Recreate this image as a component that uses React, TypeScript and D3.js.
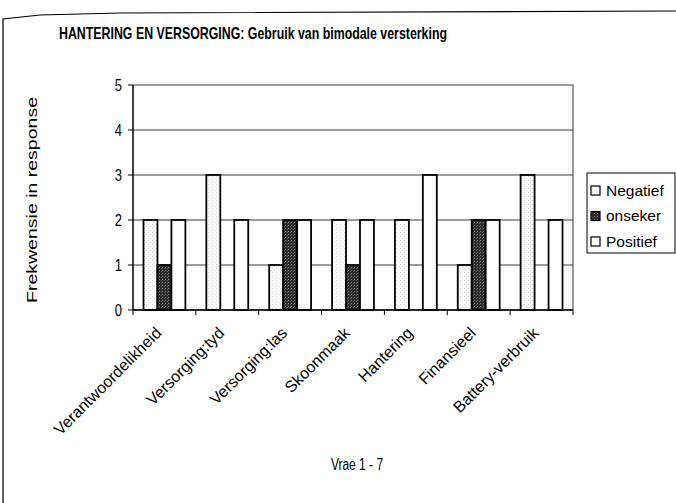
import React from "react";
import * as d3 from "d3";

const categories = [
  "Verantwoordelikheid",
  "Versorging:tyd",
  "Versorging:las",
  "Skoonmaak",
  "Hantering",
  "Finansieel",
  "Battery-verbruik",
];
const seriesNames = ["Negatief", "onseker", "Positief"];
const negatief = [2, 3, 1, 2, 2, 1, 3];
const onseker = [1, 0, 2, 1, 0, 2, 0];
const positief = [2, 2, 2, 2, 3, 2, 2];
const yTicks = [0, 1, 2, 3, 4, 5];

const title = "HANTERING EN VERSORGING: Gebruik van bimodale versterking";
const xTitle = "Vrae 1 - 7";
const yTitle = "Frekwensie in response";

const W = 676;
const H = 503;
const plot = { left: 133, right: 573, top: 85, bottom: 310 };
const fills = ["url(#patNeg)", "url(#patOns)", "#ffffff"];
const font = "Arial, 'Liberation Sans', Helvetica, sans-serif";
const VS = 1.3; // vertical stretch of the scanned text

export default function App() {
  const values = [negatief, onseker, positief];
  const x0 = d3
    .scaleBand<string>()
    .domain(categories)
    .range([plot.left, plot.right])
    .paddingInner(0)
    .paddingOuter(0);
  const bw = x0.bandwidth();
  const groupW = (bw * 2) / 3;
  const x1 = d3
    .scaleBand<string>()
    .domain(seriesNames)
    .range([0, groupW])
    .padding(0);
  const y = d3.scaleLinear().domain([0, 5]).range([plot.bottom, plot.top]);

  const boundaries = d3.range(categories.length + 1).map((i) =>
    i < categories.length ? (x0(categories[i]) as number) : plot.right
  );

  return (
    <svg
      width={W}
      height={H}
      style={{ position: "absolute", left: 0, top: 0, background: "#fff" }}
      fontFamily={font}
    >
      <defs>
        <pattern id="patNeg" width="4" height="4" patternUnits="userSpaceOnUse">
          <rect width="4" height="4" fill="#fdfdfd" />
          <rect x="0" y="0" width="1" height="1" fill="#d4d4d4" />
          <rect x="2" y="2" width="1" height="1" fill="#e2e2e2" />
        </pattern>
        <pattern id="patOns" width="3" height="3" patternUnits="userSpaceOnUse">
          <rect width="3" height="3" fill="#2a2a2a" />
          <rect x="0" y="0" width="1" height="1" fill="#858585" />
          <rect x="2" y="1" width="1" height="1" fill="#5e5e5e" />
        </pattern>
      </defs>

      {/* outer chart border (scanned, slightly skewed) */}
      <path
        d={`M3,${H} L3,19 L40,15 L120,13 L676,11`}
        fill="none"
        stroke="#000"
        strokeWidth={1.2}
      />

      {/* title */}
      <text
        transform={`translate(253, 39) scale(1, ${VS})`}
        textAnchor="middle"
        fontSize={13}
        fontWeight="bold"
        fill="#000"
        textLength={388}
        lengthAdjust="spacingAndGlyphs"
      >
        {title}
      </text>

      {/* gridlines */}
      {yTicks.map((t) => (
        <line
          key={"g" + t}
          x1={plot.left}
          x2={plot.right}
          y1={y(t)}
          y2={y(t)}
          stroke="#3a3a3a"
          strokeWidth={1}
        />
      ))}

      {/* plot area right border */}
      <line
        x1={plot.right}
        x2={plot.right}
        y1={plot.top}
        y2={plot.bottom}
        stroke="#333"
        strokeWidth={1}
      />

      {/* bars */}
      {categories.map((c, i) => {
        const gx = (x0(c) as number) + (bw - groupW) / 2;
        return (
          <g key={c}>
            {seriesNames.map((s, k) => {
              const v = values[k][i];
              if (v <= 0) return null;
              return (
                <rect
                  key={s}
                  x={gx + (x1(s) as number)}
                  y={y(v)}
                  width={x1.bandwidth()}
                  height={y(0) - y(v)}
                  fill={fills[k]}
                  stroke="#000"
                  strokeWidth={1.8}
                />
              );
            })}
          </g>
        );
      })}

      {/* y axis */}
      <line
        x1={plot.left}
        x2={plot.left}
        y1={plot.top}
        y2={plot.bottom}
        stroke="#000"
        strokeWidth={1.5}
      />
      {yTicks.map((t) => (
        <g key={"yt" + t}>
          <line
            x1={plot.left - 5}
            x2={plot.left}
            y1={y(t)}
            y2={y(t)}
            stroke="#000"
            strokeWidth={1}
          />
          <text
            transform={`translate(${plot.left - 11}, ${y(t) + 5.5}) scale(1, ${VS})`}
            textAnchor="end"
            fontSize={13}
            fill="#000"
          >
            {t}
          </text>
        </g>
      ))}

      {/* x axis */}
      <line
        x1={plot.left}
        x2={plot.right}
        y1={plot.bottom}
        y2={plot.bottom}
        stroke="#000"
        strokeWidth={1.5}
      />
      {boundaries.map((bx, i) => (
        <line
          key={"xt" + i}
          x1={bx}
          x2={bx}
          y1={plot.bottom}
          y2={plot.bottom + 5}
          stroke="#000"
          strokeWidth={1}
        />
      ))}
      {categories.map((c) => {
        const cx = (x0(c) as number) + bw / 2 - 2;
        const cy = plot.bottom + 24;
        return (
          <text
            key={"xl" + c}
            x={cx}
            y={cy}
            textAnchor="end"
            fontSize={16}
            fill="#000"
            transform={`rotate(-45, ${cx}, ${cy})`}
          >
            {c}
          </text>
        );
      })}

      {/* axis titles */}
      <text
        transform={`translate(357, 470) scale(1, ${VS})`}
        textAnchor="middle"
        fontSize={12}
        fill="#000"
      >
        {xTitle}
      </text>
      <text
        x={0}
        y={0}
        textAnchor="middle"
        fontSize={14}
        fill="#000"
        textLength={206}
        lengthAdjust="spacingAndGlyphs"
        transform={`translate(37, 200) rotate(-90)`}
      >
        {yTitle}
      </text>

      {/* legend */}
      <rect
        x={587}
        y={173}
        width={88}
        height={80}
        fill="#fff"
        stroke="#000"
        strokeWidth={1}
      />
      {seriesNames.map((s, k) => {
        const ly = 190 + k * 25.5;
        return (
          <g key={"lg" + s}>
            <rect
              x={591}
              y={ly - 4}
              width={9}
              height={9}
              fill={fills[k]}
              stroke="#000"
              strokeWidth={1.2}
            />
            <text x={606} y={ly + 5.5} fontSize={15.5} fill="#000">
              {s}
            </text>
          </g>
        );
      })}
    </svg>
  );
}
